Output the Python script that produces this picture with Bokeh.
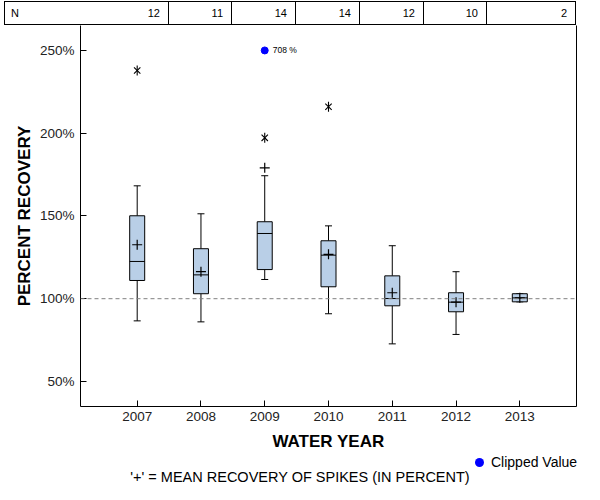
import math
from bokeh.plotting import figure
from bokeh.models import (Range1d, FixedTicker, ColumnDataSource, Span, LinearAxis, Div)
from bokeh.layouts import column
from bokeh.embed import file_html
from bokeh.resources import INLINE
from bokeh.core.properties import value

# ---------------- data ----------------
years = ["2007", "2008", "2009", "2010", "2011", "2012", "2013"]
n_counts = [12, 11, 14, 14, 12, 10, 2]
whisker_low = [86.6, 86.0, 111.6, 90.9, 72.7, 78.4, 98.1]
q1 = [111.0, 103.0, 117.6, 107.2, 95.7, 92.1, 98.1]
median = [122.5, 114.4, 139.4, 126.3, 100.1, 97.9, 100.5]
q3 = [150.1, 130.2, 146.5, 135.0, 113.8, 103.6, 103.0]
whisker_high = [168.2, 151.3, 174.3, 144.0, 132.0, 116.3, 103.0]
mean = [132.6, 116.3, 179.1, 126.8, 103.6, 97.9, 100.5]

outlier_years = ["2007", "2009", "2010"]
outlier_values = [237.9, 197.2, 216.0]

clipped_years = ["2009"]
clipped_values = [708]
clip_limit = 250

y_ticks = [50, 100, 150, 200, 250]
y_tick_labels = ["50%", "100%", "150%", "200%", "250%"]
reference_level = 100

legend_label = "Clipped Value"
footnote = "'+' = MEAN RECOVERY OF SPIKES (IN PERCENT)"

# ---------------- styling / geometry ----------------
FONT = "Liberation Sans"
BOX_FILL = "#b9cfe7"
W = 584
BORDER_L, BORDER_R = 80, 8
FRAME_H = 381
BORDER_B = 50
X_LO, X_HI = 0.111, 7.889
Y_LO, Y_HI = 34.86, 265.07
PX = (W - BORDER_L - BORDER_R) / (X_HI - X_LO)   # pixels per x unit
BOX_W = 15 / PX
CAP_W = 7 / PX

pos = [i + 1 for i in range(len(years))]
xmap = {y: i + 1 for i, y in enumerate(years)}

src = ColumnDataSource(dict(
    x=pos, q1=q1, q3=q3, med=median, wlo=whisker_low, whi=whisker_high, mean=mean,
    xl=[x - BOX_W / 2 for x in pos], xr=[x + BOX_W / 2 for x in pos],
    cl=[x - CAP_W / 2 for x in pos], cr=[x + CAP_W / 2 for x in pos],
))

# ---------------- main plot ----------------
p = figure(width=W, height=FRAME_H + BORDER_B, x_range=Range1d(X_LO, X_HI),
           y_range=Range1d(Y_LO, Y_HI), output_backend="svg", toolbar_location=None,
           min_border_left=BORDER_L, min_border_right=BORDER_R, min_border_top=0,
           min_border_bottom=BORDER_B)
p.outline_line_color = None
p.grid.visible = False
p.background_fill_color = "white"
p.border_fill_color = "white"

for ax in (p.xaxis[0], p.yaxis[0]):
    ax.axis_line_color = "black"
    ax.axis_line_width = 1
    ax.major_tick_in = 6
    ax.major_tick_out = 0
    ax.major_tick_line_color = "black"
    ax.minor_tick_line_color = None
    ax.major_label_text_font = FONT
    ax.major_label_text_font_size = "13.5px"
    ax.major_label_text_color = "#222222"
    ax.axis_label_text_font = FONT
    ax.axis_label_text_font_size = "17px"
    ax.axis_label_text_font_style = "bold"
    ax.axis_label_text_color = "black"

p.xaxis.ticker = FixedTicker(ticks=pos)
p.xaxis.major_label_overrides = {x: y for x, y in zip(pos, years)}
p.xaxis.axis_label = "WATER YEAR"
p.xaxis.major_label_standoff = 5
p.xaxis.axis_label_standoff = 8

p.yaxis.ticker = FixedTicker(ticks=y_ticks)
p.yaxis.major_label_overrides = {t: l for t, l in zip(y_ticks, y_tick_labels)}
p.yaxis.axis_label = "PERCENT RECOVERY"
p.yaxis.major_label_standoff = 6
p.yaxis.axis_label_standoff = 3

right_axis = LinearAxis(ticker=FixedTicker(ticks=[]), axis_line_color="black",
                        major_tick_line_color=None, minor_tick_line_color=None)
p.add_layout(right_axis, "right")

# reference line
p.add_layout(Span(location=reference_level, dimension="width", line_color="#808080",
                  line_dash="4 3", line_width=1))

# whiskers and caps
p.segment(x0="x", y0="q3", x1="x", y1="whi", source=src, line_color="black", line_width=1)
p.segment(x0="x", y0="q1", x1="x", y1="wlo", source=src, line_color="black", line_width=1)
p.segment(x0="cl", y0="whi", x1="cr", y1="whi", source=src, line_color="black", line_width=1)
p.segment(x0="cl", y0="wlo", x1="cr", y1="wlo", source=src, line_color="black", line_width=1)

# boxes
p.vbar(x="x", width=BOX_W, bottom="q1", top="q3", source=src,
       fill_color=BOX_FILL, line_color="black", line_width=1)
p.segment(x0="xl", y0="med", x1="xr", y1="med", source=src, line_color="black", line_width=1)

# means
p.scatter(x="x", y="mean", source=src, marker="cross", size=10,
          line_color="black", line_width=1.2)

# outliers (star)
osrc = ColumnDataSource(dict(x=[xmap[y] for y in outlier_years], y=outlier_values))
p.scatter(x="x", y="y", source=osrc, marker="x", size=9, line_color="black", line_width=1.1)
p.scatter(x="x", y="y", source=osrc, marker="dash", angle=math.pi / 2, size=10,
          line_color="black", line_width=1.1)

# clipped value
csrc = ColumnDataSource(dict(x=[xmap[y] for y in clipped_years],
                             y=[min(v, clip_limit) for v in clipped_values],
                             label=[f"{v} %" for v in clipped_values]))
p.scatter(x="x", y="y", source=csrc, marker="circle", size=7,
          fill_color="#0000ff", line_color="#0000ff")
p.text(x="x", y="y", text="label", source=csrc, x_offset=8, text_font=value(FONT),
       text_font_size="8.5px", text_baseline="middle", text_color="black")

# ---------------- N table (above the frame) ----------------
def to_px(v):
    return BORDER_L + (v - X_LO) * PX

edges = [4] + [round(to_px(x + 0.5)) for x in pos[:-1]] + [round(to_px(X_HI))]
cells = []
for i, n in enumerate(n_counts):
    l, r = edges[i], edges[i + 1]
    bl = "1px solid #000" if i == 0 else "none"
    lead = ('<span style="position:absolute;left:6px;top:0;line-height:22px;">N</span>'
            if i == 0 else "")
    cells.append(
        f'<div style="position:absolute;left:{l}px;top:1px;width:{r - l}px;height:24px;'
        f'box-sizing:border-box;border-top:1px solid #000;border-bottom:1px solid #000;'
        f'border-right:1px solid #000;border-left:{bl};">{lead}'
        f'<span style="position:absolute;right:8px;top:0;line-height:22px;">{n}</span></div>')
table_div = Div(text=(f'<div style="position:relative;width:{W}px;height:25px;'
                      f"font-family:'{FONT}',Arial,sans-serif;font-size:11px;color:#000;\">"
                      + "".join(cells) + "</div>"),
                width=W, height=25, margin=0)

# ---------------- legend + footnote (below) ----------------
bottom_h = 484 - (25 + FRAME_H + BORDER_B)
bottom_div = Div(text=(
    f'<div style="position:relative;width:{W}px;height:{bottom_h}px;'
    f"font-family:'{FONT}',Arial,sans-serif;font-size:14px;color:#000;\">"
    f'<span style="position:absolute;left:475px;top:2px;width:9px;height:9px;'
    f'border-radius:50%;background:#0000ff;"></span>'
    f'<span style="position:absolute;left:491px;top:-2px;line-height:16px;white-space:nowrap;">{legend_label}</span>'
    f'<span style="position:absolute;left:50px;width:500px;text-align:center;top:13px;'
    f'font-size:14.5px;line-height:16px;white-space:nowrap;">{footnote}</span></div>'),
    width=W, height=bottom_h, margin=0)

layout = column(table_div, p, bottom_div, spacing=0)
open("out.html", "w").write(file_html(layout, INLINE))
